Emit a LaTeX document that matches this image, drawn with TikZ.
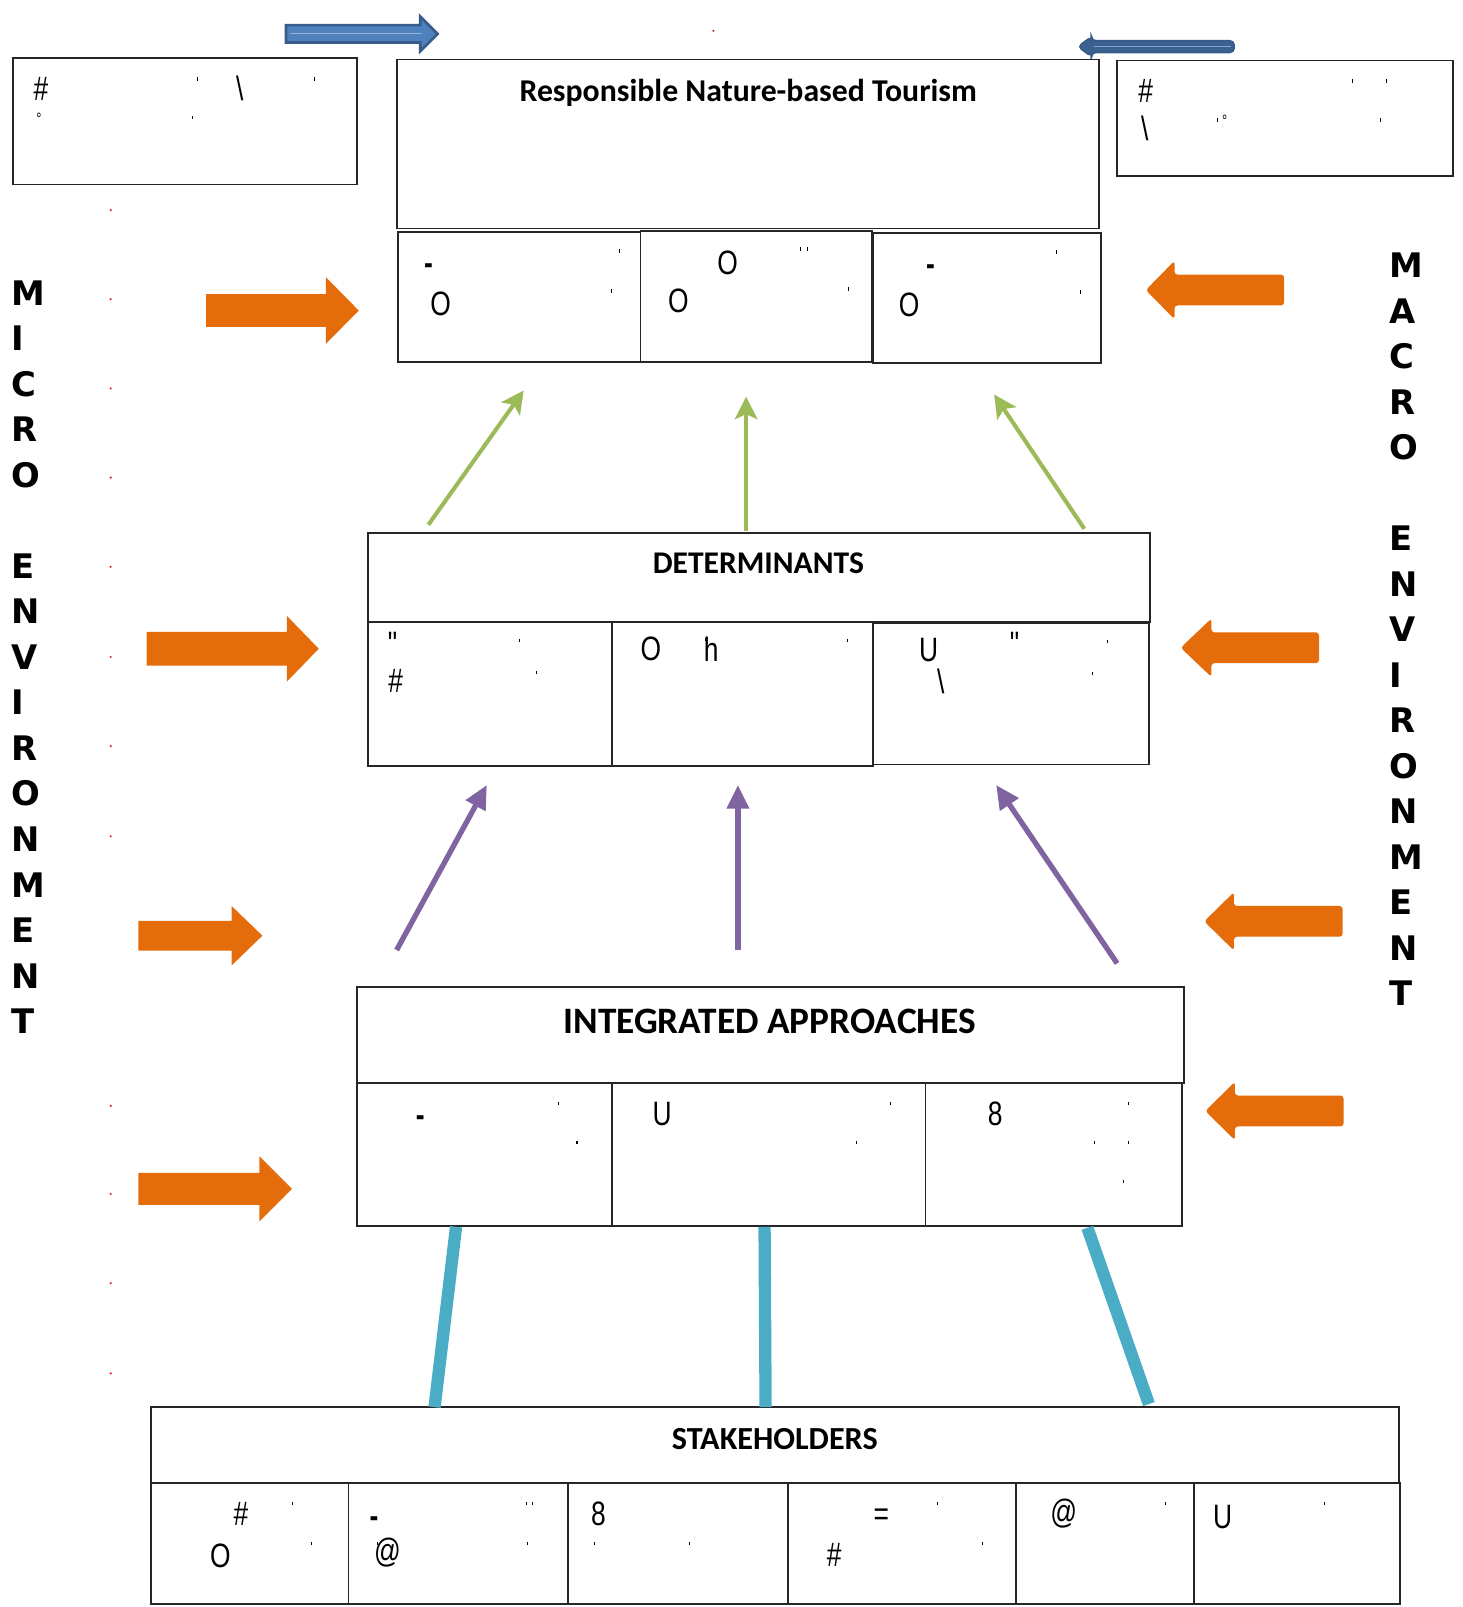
\documentclass[tikz,border=0pt]{standalone}
\usepackage{fontspec}
\setmainfont{Carlito}
\newfontfamily\sidefont{DejaVu Sans}
\newfontfamily\glyphfont{Liberation Sans}[FakeStretch=0.78]
\usetikzlibrary{arrows.meta,calc}

\definecolor{orangeA}{RGB}{228,108,10}
\definecolor{greenA}{RGB}{155,187,89}
\definecolor{purpleA}{RGB}{128,100,162}
\definecolor{cyanA}{RGB}{75,172,198}
\definecolor{blueA}{RGB}{79,129,189}
\definecolor{blueD}{RGB}{56,93,138}
\definecolor{dotred}{RGB}{225,45,45}

% panel: name, x1, y1, x2, y2 (picture units)
\newcommand\panel[5]{\node[frame,anchor=north west,
  minimum width={(#4-#2)*0.5pt},minimum height={(#5-#3)*0.5pt}] (#1) at (#2,#3) {};}
% right-pointing block arrow: x0, x1 (head base), tip x, centre y, half body, half head
\newcommand\arrowright[6]{\fill[orangeA] (#1,#4-#5) -- (#2,#4-#5) -- (#2,#4-#6) -- (#3,#4)
  -- (#2,#4+#6) -- (#2,#4+#5) -- (#1,#4+#5) -- cycle;}
% left-pointing block arrow: tip x, head base x, tail x, centre y, half body, half head
\newcommand\arrowleft[6]{\fill[orangeA,rounded corners=1.5pt] (#3,#4-#5) -- (#2,#4-#5) -- (#2,#4-#6) -- (#1,#4)
  -- (#2,#4+#6) -- (#2,#4+#5) -- (#3,#4+#5) -- cycle;}

\tikzset{
  frame/.style={draw=black!85,line width=0.9pt,inner sep=0pt,outer sep=0pt,fill=white},
  heading/.style={font=\bfseries\fontsize{#1}{#1}\selectfont,anchor=base,inner sep=0pt},
  gl/.style={font=\glyphfont\fontsize{16.5}{17}\selectfont,inner sep=0pt},
  dashgl/.style={font=\glyphfont\bfseries\fontsize{16.5}{17}\selectfont,inner sep=0pt},
  tk/.style={inner sep=0pt,fill=black,minimum width=0.5pt,minimum height=1.6pt},
  sidelet/.style={font=\sidefont\bfseries\fontsize{16.5}{17}\selectfont,anchor=west,inner sep=0pt},
  greenarrow/.style={draw=greenA,line width=2pt,-{Stealth[length=11pt,width=11pt,inset=2.5pt]}},
  purplearrow/.style={draw=purpleA,line width=2.6pt,-{Triangle[length=11.5pt,width=10.5pt]}},
  cyanbar/.style={draw=cyanA,line width=6pt},
}

\begin{document}
\begin{tikzpicture}[x=0.5pt,y=-0.5pt]
\useasboundingbox (0,0) rectangle (1427,1568);

% ---------- blue arrows at the top ----------
\filldraw[fill=blueA,draw=blueD,line width=1.3pt] (279,24.5) -- (410,24.5) -- (410,16) -- (427,33)
  -- (410,50) -- (410,41.5) -- (279,41.5) -- cycle;
\filldraw[fill=blueD!90!blueA,draw=blueD,line width=1pt,rounded corners=2pt]
  (1204,40) -- (1065,40) -- (1065,36) -- (1052,45.5) -- (1065,55) -- (1065,51) -- (1204,51) -- cycle;
\draw[blueA!70!white,line width=0.6pt] (1067,45.5) -- (1201,45.5);
\draw[blueA!60!white,line width=0.6pt] (283,33) -- (412,33);

% ---------- top boxes ----------
\panel{tlbox}{13}{57}{348}{180}
\panel{trbox}{1090}{59}{1418}{172}
\panel{rnbt}{387}{58}{1072}{223}
\panel{rc1}{388}{226}{625}{353}
\panel{rc2}{625}{225}{851}{353}
\panel{rc3}{852}{227}{1074}{354}
\node[heading=15.5] (rnbttitle) at (730,99) {Responsible Nature-based Tourism};

% ---------- determinants ----------
\panel{dtop}{359}{520}{1122}{607}
\panel{dc1}{359}{607}{597}{747}
\panel{dc2}{597}{607}{852}{747}
\panel{dc3}{852}{608}{1121}{746}
\node[heading=15.4] (dettitle) at (740,560) {DETERMINANTS};

% ---------- integrated approaches ----------
\panel{itop}{348}{963}{1155}{1057}
\panel{ic1}{348}{1057}{597}{1196}
\panel{ic2}{597}{1057}{903}{1196}
\panel{ic3}{903}{1057}{1153}{1196}
\node[heading=18.2] (inttitle) at (751,1008) {INTEGRATED APPROACHES};

% ---------- stakeholders ----------
\panel{stop}{147}{1373}{1365}{1447}
\panel{sc1}{147}{1447}{340}{1565}
\panel{sc2}{340}{1447}{554}{1565}
\panel{sc3}{554}{1447}{769}{1565}
\panel{sc4}{769}{1447}{991}{1565}
\panel{sc5}{991}{1447}{1165}{1565}
\panel{sc6}{1165}{1447}{1366}{1565}
\node[heading=15.7] (stktitle) at (756,1414) {STAKEHOLDERS};

% ---------- glyphs inside the boxes ----------
\node[gl] (a1) at (40,87) {\#};
\node[gl] (a2) at (234,86) {\textbackslash};
\node[gl,font=\glyphfont\fontsize{8}{8}\selectfont] (a3) at (38,116) {°};
\node[gl] (b1) at (1118,89) {\#};
\node[gl] (b2) at (1117,125) {\textbackslash};
\node[gl,font=\glyphfont\fontsize{8}{8}\selectfont] (b3) at (1195,118) {°};

\node[dashgl] (c1) at (418,263) {-};
\node[gl] (c2) at (430,296) {O};
\node[gl] (c3) at (710,256) {O};
\node[gl] (c4) at (662,294) {O};
\node[dashgl] (c5) at (908,264) {-};
\node[gl] (c6) at (887,297) {O};

\node[gl] (d1) at (383,628) {\symbol{34}};
\node[gl] (d2) at (386,664) {\#};
\node[gl] (d3) at (635,633) {O};
\node[gl] (d4) at (694,633) {h};
\node[gl] (d5) at (906,634) {U};
\node[gl] (d6) at (990,628) {\symbol{34}};
\node[gl] (d7) at (918,665) {\textbackslash};

\node[dashgl] (e1) at (410,1094) {-};
\node[gl] (e2) at (646,1087) {U};
\node[gl] (e3) at (971,1087) {8};

\node[gl] (f1) at (235,1477) {\#};
\node[gl] (f2) at (215,1518) {O};
\node[dashgl] (f3) at (365,1485) {-};
\node[gl] (f4) at (378,1515) {@};
\node[gl] (f5) at (584,1477) {8};
\node[gl] (f6) at (860,1480) {=};
\node[gl] (f7) at (814,1517) {\#};
\node[gl] (f8) at (1038,1477) {@};
\node[gl] (f9) at (1193,1480) {U};

% small tick marks
\foreach \x/\y [count=\i] in {193/77,307/77,188/115,1320/79,1353/79,1347/117,1188/117,
  604/245,597/284,781/243,788/243,828/282,1031/246,1054/285,
  507/625,523/656,688/624,827/625,1081/626,1066/657,
  545/1077,563/1115,869/1077,836/1115,1101/1077,1068/1115,1101/1115,1096/1153,
  285/1467,304/1506,514/1467,520/1467,368/1506,515/1506,580/1506,673/1506,
  915/1467,959/1506,1137/1467,1292/1467}
  \node[tk] (tick\i) at (\x,\y) {};

% ---------- red dots ----------
\foreach \y in {205,292,379,466,553,641,728,816,1079,1165,1252,1340}
  \fill[dotred] (108,\y) circle (1.2);
\fill[dotred] (696,30) circle (1.2);

% ---------- side labels ----------
\foreach \k/\c in {0/M,1/I,2/C,3/R,4/O,6/E,7/N,8/V,9/I,10/R,11/O,12/N,13/M,14/E,15/N,16/T}
  \node[sidelet] (mic\k) at (11,{286+44.4*\k}) {\c};
\foreach \k/\c in {0/M,1/A,2/C,3/R,4/O,6/E,7/N,8/V,9/I,10/R,11/O,12/N,13/M,14/E,15/N,16/T}
  \node[sidelet] (mac\k) at (1355,{259+44.4*\k}) {\c};

% ---------- orange environment arrows ----------
\arrowright{201}{318}{350}{303}{16}{32.5}
\arrowright{143}{280}{311}{633}{16.5}{32}
\arrowright{135}{226}{256}{913}{14.5}{29}
\arrowright{135}{253}{285}{1160}{15.5}{32}
\arrowleft{1118}{1146}{1253}{283}{15}{28.5}
\arrowleft{1152}{1182}{1287}{632}{15}{28.5}
\arrowleft{1175}{1204}{1310}{899}{15}{28.5}
\arrowleft{1176}{1205}{1311}{1084}{15}{28.5}

% ---------- green arrows: determinants to tourism ----------
\coordinate (g1s) at (418,512); \coordinate (g1e) at (511,381);
\coordinate (g2s) at (728,518); \coordinate (g2e) at (728,387);
\coordinate (g3s) at (1058,516); \coordinate (g3e) at (970,385);
\draw[greenarrow] (g1s) -- (g1e);
\draw[greenarrow] (g2s) -- (g2e);
\draw[greenarrow] (g3s) -- (g3e);

% ---------- purple arrows: approaches to determinants ----------
\coordinate (p1s) at (387,927); \coordinate (p1e) at (475,766);
\coordinate (p2s) at (720,927); \coordinate (p2e) at (720,766);
\coordinate (p3s) at (1090,940); \coordinate (p3e) at (972,766);
\draw[purplearrow] (p1s) -- (p1e);
\draw[purplearrow] (p2s) -- (p2e);
\draw[purplearrow] (p3s) -- (p3e);

% ---------- cyan links: stakeholders to approaches ----------
\coordinate (k1a) at (445,1197); \coordinate (k1b) at (424,1373);
\coordinate (k2a) at (746,1197); \coordinate (k2b) at (747,1373);
\coordinate (k3a) at (1061,1198); \coordinate (k3b) at (1121,1370);
\foreach \a/\b in {k1a/k1b,k2a/k2b,k3a/k3b}
  \draw[cyanbar] (\a) -- (\b);
\end{tikzpicture}
\end{document}
